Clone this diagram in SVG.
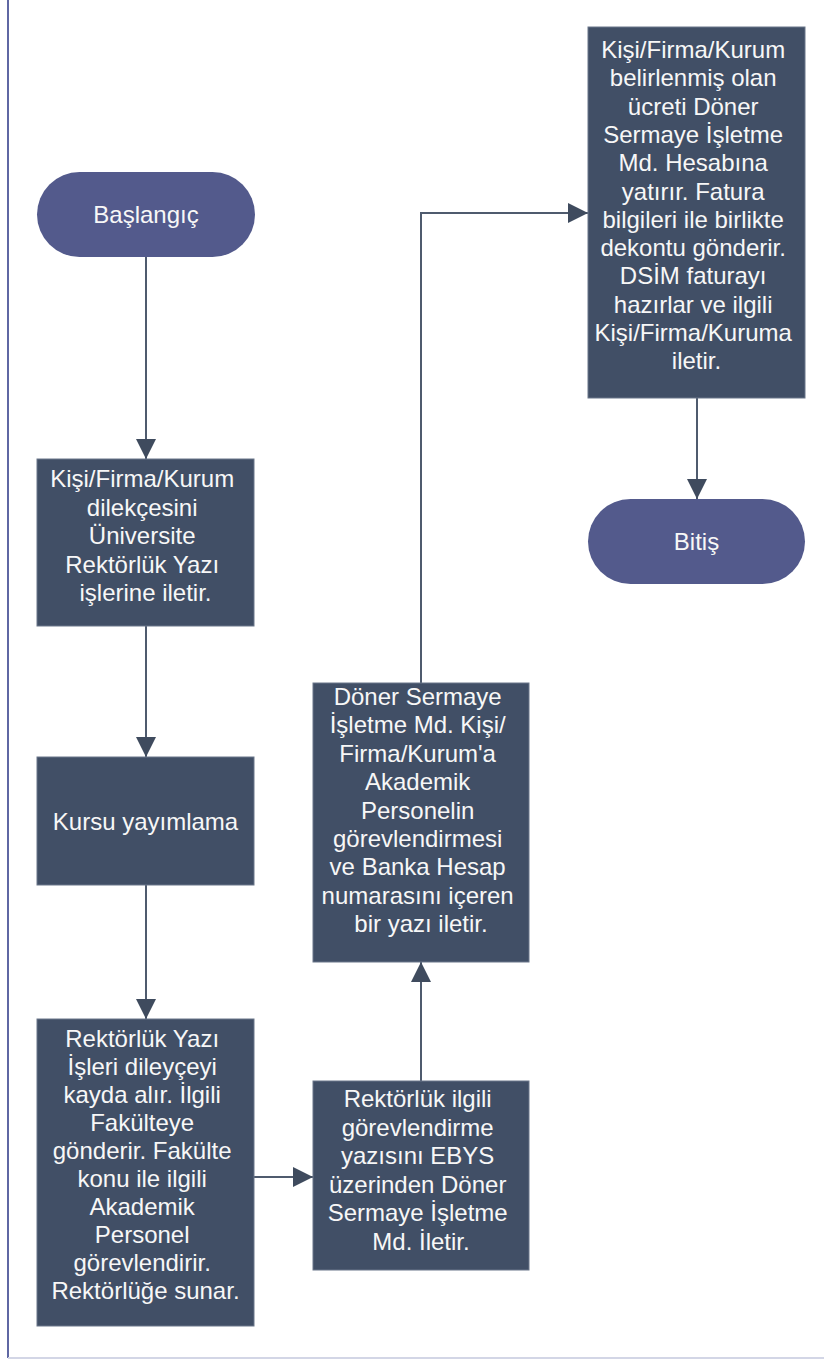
<svg xmlns="http://www.w3.org/2000/svg" width="824" height="1361" viewBox="0 0 824 1361">
<defs>
<style>
.term{fill:#535a8c;}
.proc{fill:#414f66;stroke:#6b778a;stroke-width:1;}
.lbl{font-family:"Liberation Sans",Arial,sans-serif;font-size:24px;fill:#f7f7f7;text-anchor:middle;}
.conn{fill:none;stroke:#4f5b6e;stroke-width:2;}
</style>
<marker id="arr" viewBox="0 0 20 20" refX="20" refY="10" markerWidth="20" markerHeight="20" markerUnits="userSpaceOnUse" orient="auto">
<path d="M0,0 L20,10 L0,20 Z" fill="#3f4b5e"/>
</marker>
</defs>
<rect x="0" y="0" width="824" height="1361" fill="#ffffff"/>
<line x1="8" y1="0" x2="8" y2="1358" stroke="#5f67a3" stroke-width="2"/>
<line x1="8" y1="1358" x2="824" y2="1358" stroke="#d3d6e6" stroke-width="2"/>

<g id="connectors">
<path class="conn" d="M146,257 L146,459" marker-end="url(#arr)"/>
<path class="conn" d="M146,626 L146,757" marker-end="url(#arr)"/>
<path class="conn" d="M146,885 L146,1019" marker-end="url(#arr)"/>
<path class="conn" d="M254,1177 L313,1177" marker-end="url(#arr)"/>
<path class="conn" d="M421,1081 L421,962" marker-end="url(#arr)"/>
<path class="conn" d="M421,683 L421,213 L588,213" marker-end="url(#arr)"/>
<path class="conn" d="M697,398 L697,499" marker-end="url(#arr)"/>
</g>

<g id="start">
<rect class="term" x="37" y="172" width="218" height="85" rx="42.5"/>
<text class="lbl" x="146" y="223">Başlangıç</text>
</g>

<g id="n1">
<rect class="proc" x="37" y="459" width="217" height="167"/>
<text class="lbl" x="145.5" y="487">
<tspan x="145.5">Kişi/Firma/Kurum</tspan>
<tspan x="145.5" dy="28.5">dilekçesini</tspan>
<tspan x="145.5" dy="28.5">Üniversite</tspan>
<tspan x="145.5" dy="28.5">Rektörlük Yazı</tspan>
<tspan x="145.5" dy="28.5">işlerine iletir.</tspan>
</text>
</g>

<g id="n2">
<rect class="proc" x="37" y="757" width="217" height="128"/>
<text class="lbl" x="145.5" y="830">Kursu yayımlama</text>
</g>

<g id="n3">
<rect class="proc" x="37" y="1019" width="217" height="307"/>
<text class="lbl" x="145.5" y="1047">
<tspan x="145.5">Rektörlük Yazı</tspan>
<tspan x="145.5" dy="28">İşleri dileyçeyi</tspan>
<tspan x="145.5" dy="28">kayda alır. İlgili</tspan>
<tspan x="145.5" dy="28">Fakülteye</tspan>
<tspan x="145.5" dy="28">gönderir. Fakülte</tspan>
<tspan x="145.5" dy="28">konu ile ilgili</tspan>
<tspan x="145.5" dy="28">Akademik</tspan>
<tspan x="145.5" dy="28">Personel</tspan>
<tspan x="145.5" dy="28">görevlendirir.</tspan>
<tspan x="145.5" dy="28">Rektörlüğe sunar.</tspan>
</text>
</g>

<g id="n4">
<rect class="proc" x="313" y="1081" width="216" height="189"/>
<text class="lbl" x="421" y="1107">
<tspan x="421">Rektörlük ilgili</tspan>
<tspan x="421" dy="28.5">görevlendirme</tspan>
<tspan x="421" dy="28.5">yazısını EBYS</tspan>
<tspan x="421" dy="28.5">üzerinden Döner</tspan>
<tspan x="421" dy="28.5">Sermaye İşletme</tspan>
<tspan x="421" dy="28.5">Md. İletir.</tspan>
</text>
</g>

<g id="n5">
<rect class="proc" x="313" y="683" width="216" height="279"/>
<text class="lbl" x="421" y="705">
<tspan x="421">Döner Sermaye</tspan>
<tspan x="421" dy="28.4">İşletme Md. Kişi/</tspan>
<tspan x="421" dy="28.4">Firma/Kurum'a</tspan>
<tspan x="421" dy="28.4">Akademik</tspan>
<tspan x="421" dy="28.4">Personelin</tspan>
<tspan x="421" dy="28.4">görevlendirmesi</tspan>
<tspan x="421" dy="28.4">ve Banka Hesap</tspan>
<tspan x="421" dy="28.4">numarasını içeren</tspan>
<tspan x="421" dy="28.4">bir yazı iletir.</tspan>
</text>
</g>

<g id="n6">
<rect class="proc" x="588" y="27" width="217" height="371"/>
<text class="lbl" x="696.5" y="58">
<tspan x="696.5">Kişi/Firma/Kurum</tspan>
<tspan x="696.5" dy="28.3">belirlenmiş olan</tspan>
<tspan x="696.5" dy="28.3">ücreti Döner</tspan>
<tspan x="696.5" dy="28.3">Sermaye İşletme</tspan>
<tspan x="696.5" dy="28.3">Md. Hesabına</tspan>
<tspan x="696.5" dy="28.3">yatırır. Fatura</tspan>
<tspan x="696.5" dy="28.3">bilgileri ile birlikte</tspan>
<tspan x="696.5" dy="28.3">dekontu gönderir.</tspan>
<tspan x="696.5" dy="28.3">DSİM faturayı</tspan>
<tspan x="696.5" dy="28.3">hazırlar ve ilgili</tspan>
<tspan x="696.5" dy="28.3">Kişi/Firma/Kuruma</tspan>
<tspan x="696.5" dy="28.3">iletir.</tspan>
</text>
</g>

<g id="end">
<rect class="term" x="588" y="499" width="217" height="85" rx="42.5"/>
<text class="lbl" x="696.5" y="550">Bitiş</text>
</g>
</svg>
